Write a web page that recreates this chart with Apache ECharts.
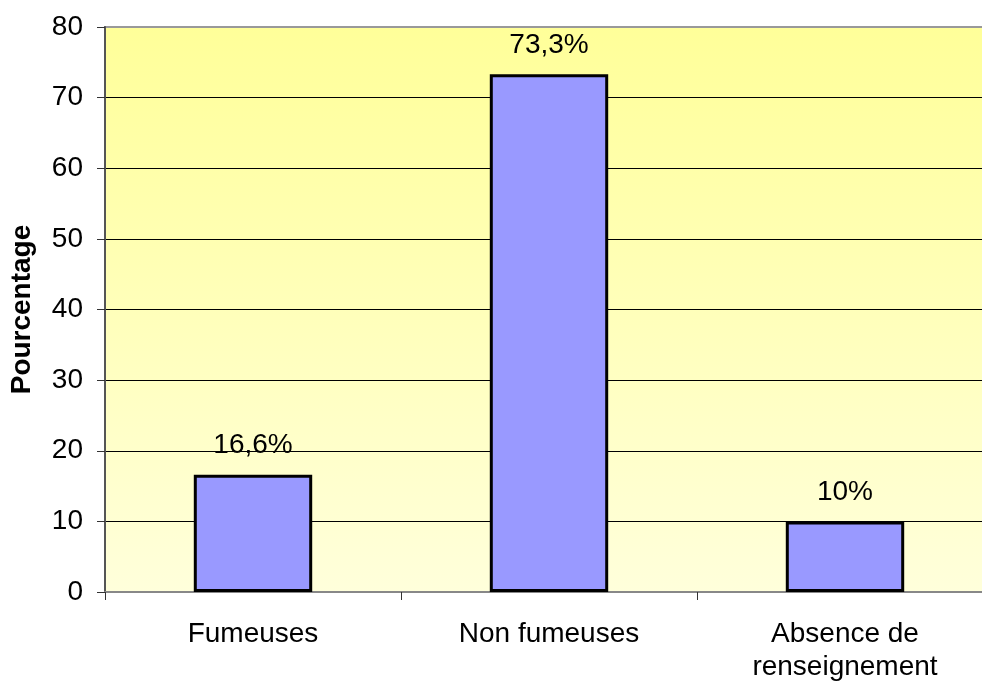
<!DOCTYPE html>
<html><head><meta charset="utf-8">
<script src="https://cdn.jsdelivr.net/npm/echarts@6/dist/echarts.min.js"></script>
<style>html,body{margin:0;padding:0;background:#fff}#c{width:982px;height:683px}</style>
</head><body><div id="c"></div>
<script>
var categories = ['Fumeuses', 'Non fumeuses', 'Absence de\nrenseignement'];
var values = [16.6, 73.3, 10];
var valueLabels = ['16,6%', '73,3%', '10%'];
var yTicks = [0, 10, 20, 30, 40, 50, 60, 70, 80];

var chart = echarts.init(document.getElementById('c'));
var font = '"Liberation Sans", Arial, sans-serif';
chart.setOption({
  animation: false,
  grid: {
    left: 105, top: 27, height: 565, width: 888,
    outerBoundsMode: 'none',
    containLabel: false,
    show: true,
    borderColor: '#999999', borderWidth: 2,
    backgroundColor: new echarts.graphic.LinearGradient(0, 0, 0, 1, [
      {offset: 0, color: '#FFFF99'}, {offset: 1, color: '#FFFFDB'}
    ])
  },
  xAxis: {
    type: 'category', data: categories,
    axisLine: {lineStyle: {color: '#888888', width: 2}},
    axisTick: {show: true, length: 8, lineStyle: {color: '#333'}},
    axisLabel: {color: '#000', fontFamily: font, fontSize: 28, margin: 26, lineHeight: 33}
  },
  yAxis: {
    type: 'value', min: 0, max: 80, interval: 10,
    name: 'Pourcentage', nameLocation: 'middle', nameGap: 69,
    nameTextStyle: {color: '#000', fontFamily: font, fontSize: 28, fontWeight: 'bold'},
    axisLine: {show: true, lineStyle: {color: '#555555', width: 2}},
    axisTick: {show: true, length: 8, lineStyle: {color: '#333'}},
    axisLabel: {color: '#000', fontFamily: font, fontSize: 28, margin: 22,
      formatter: function (v) { return yTicks.indexOf(v) >= 0 ? String(v) : ''; }},
    splitLine: {show: true, showMaxLine: false, lineStyle: {color: '#000', width: 1}}
  },
  series: [{
    type: 'bar', data: values, barWidth: '40%',
    itemStyle: {color: '#9999FF', borderColor: '#000', borderWidth: 3},
    label: {show: true, position: 'top', distance: 15, color: '#000', fontFamily: font, fontSize: 28,
      formatter: function (p) { return valueLabels[p.dataIndex]; }}
  }]
});
</script></body></html>
